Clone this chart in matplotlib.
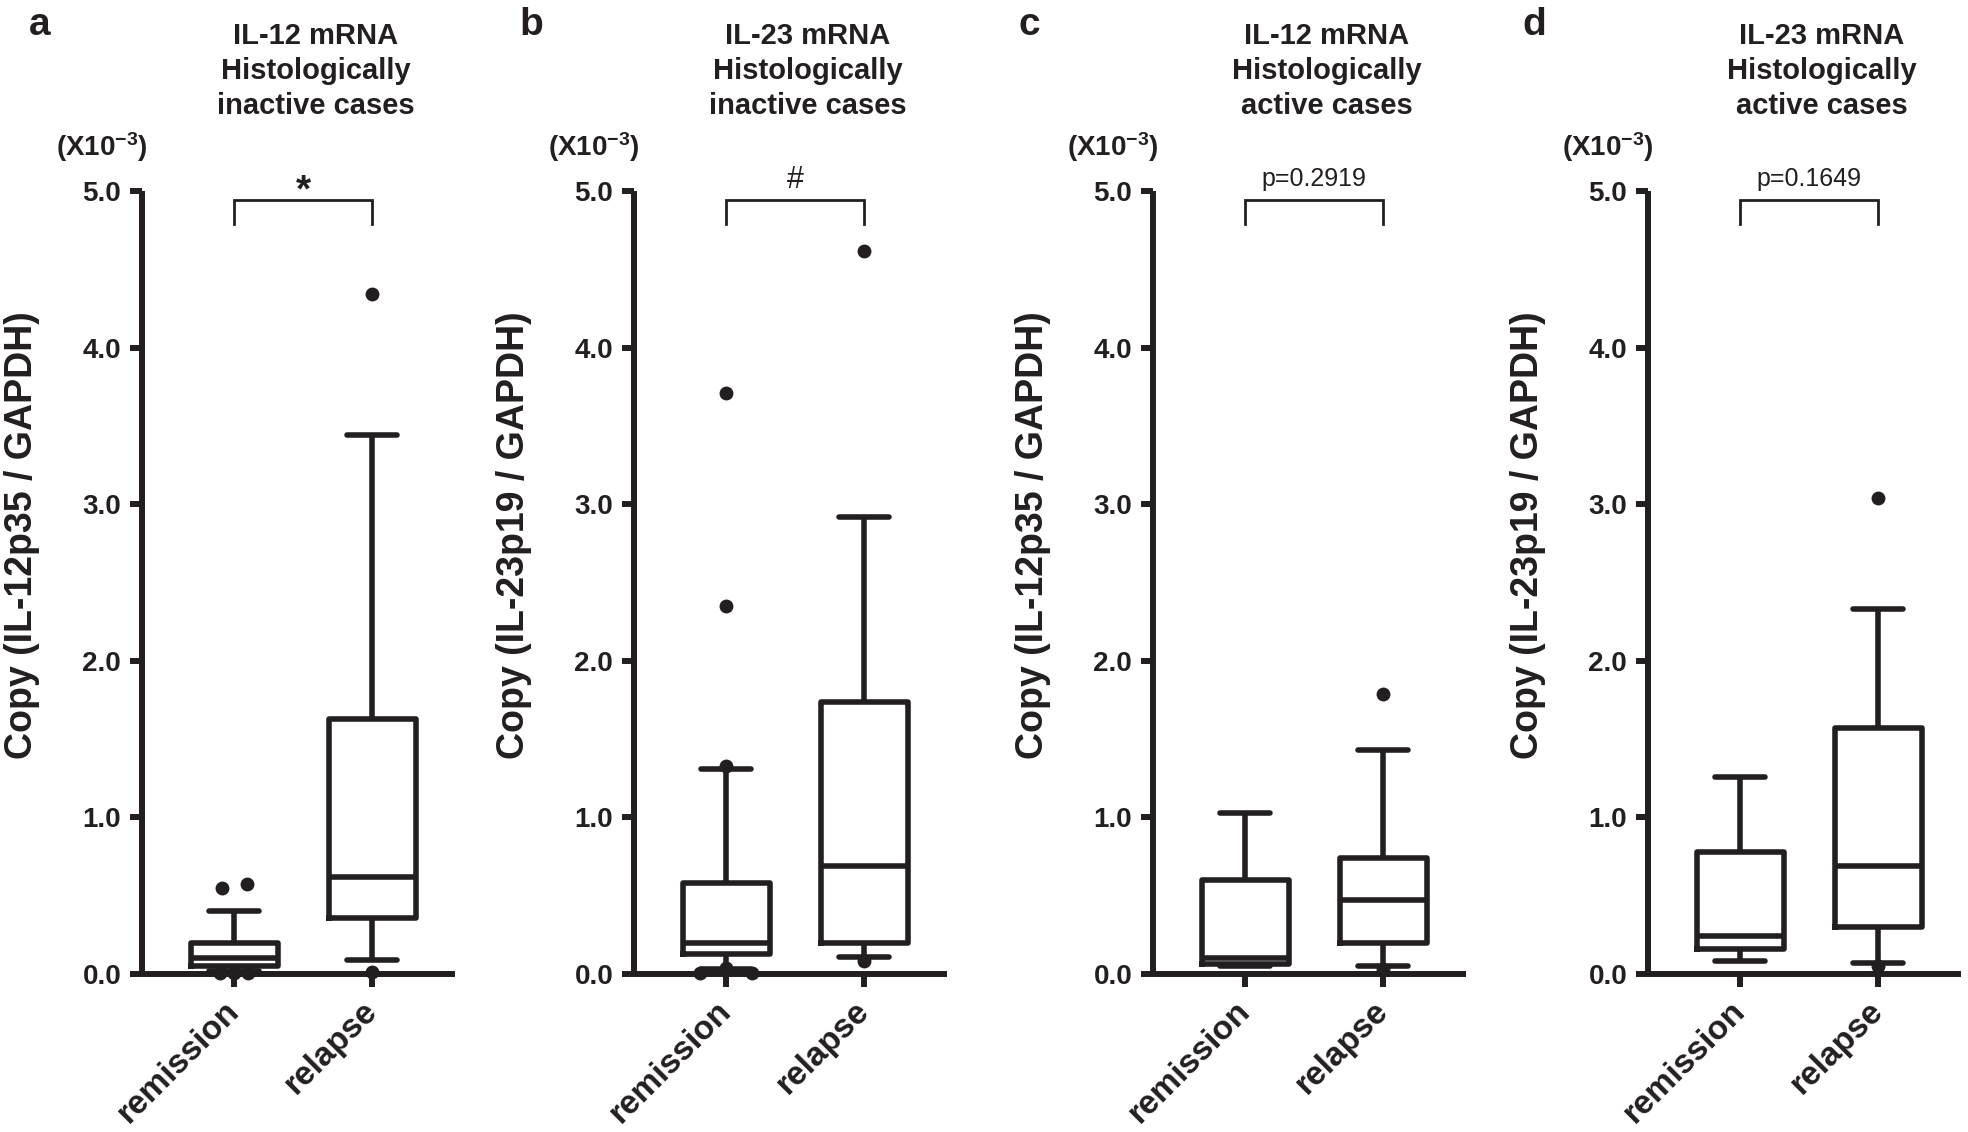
import matplotlib.pyplot as plt
import numpy as np

plt.rcParams['font.family'] = ['Liberation Sans', 'DejaVu Sans']
plt.rcParams['font.weight'] = 'bold'
plt.rcParams['axes.labelweight'] = 'bold'
plt.rcParams['mathtext.fontset'] = 'custom'
plt.rcParams['mathtext.rm'] = 'Liberation Sans:bold'
plt.rcParams['mathtext.default'] = 'rm'

INK = '#231f20'

# ---- data (x10^-3 copies) ----
groups = ['remission', 'relapse']
panel_letters = ['a', 'b', 'c', 'd']
titles = ['IL-12 mRNA\nHistologically\ninactive cases',
          'IL-23 mRNA\nHistologically\ninactive cases',
          'IL-12 mRNA\nHistologically\nactive cases',
          'IL-23 mRNA\nHistologically\nactive cases']
ylabels = ['Copy (IL-12p35 / GAPDH)', 'Copy (IL-23p19 / GAPDH)',
           'Copy (IL-12p35 / GAPDH)', 'Copy (IL-23p19 / GAPDH)']
sig_labels = ['*', '#', 'p=0.2919', 'p=0.1649']

# per panel: [remission, relapse]
whislo = [[0.02, 0.09], [0.03, 0.11], [0.05, 0.05], [0.085, 0.07]]
q1 = [[0.05, 0.36], [0.13, 0.20], [0.065, 0.20], [0.16, 0.30]]
med = [[0.10, 0.62], [0.20, 0.69], [0.10, 0.47], [0.24, 0.69]]
q3 = [[0.20, 1.63], [0.58, 1.74], [0.60, 0.74], [0.78, 1.57]]
whishi = [[0.40, 3.44], [1.31, 2.92], [1.03, 1.43], [1.26, 2.33]]
fliers = [[[0.55, 0.575, 0.005, 0.005, 0.005], [4.34, 0.01]],
          [[3.71, 2.35, 1.33, 0.005, 0.04, 0.005], [4.62, 0.08]],
          [[], [1.79, 0.03]],
          [[], [3.04, 0.05]]]
# horizontal spread of overlapping points (layout only)
flier_dx = [[[-0.09, 0.09, -0.1, 0.0, 0.1], [0.0, 0.0]],
            [[0.0, 0.0, 0.0, -0.19, 0.0, 0.19], [0.0, 0.0]],
            [[], [0.0, 0.0]],
            [[], [0.0, 0.0]]]

fig = plt.figure(figsize=(19.68, 11.32), dpi=100, facecolor='white')

lefts = [142, 634, 1153, 1648]
letter_x = [40, 531, 1029, 1534]
W, H = 1968, 1132
positions = [1, 2]

for i in range(4):
    ax = fig.add_axes([lefts[i] / W, 158 / H, 313 / W, 783 / H])
    stats = []
    for g in range(2):
        stats.append(dict(whislo=whislo[i][g], q1=q1[i][g], med=med[i][g],
                          q3=q3[i][g], whishi=whishi[i][g], fliers=[],
                          label=groups[g]))
    lw = 4.0
    ax.bxp(stats, positions=positions, widths=0.63, capwidths=0.36,
           showfliers=False, patch_artist=False,
           boxprops=dict(color=INK, linewidth=lw),
           whiskerprops=dict(color=INK, linewidth=lw, solid_capstyle='butt'),
           capprops=dict(color=INK, linewidth=lw, solid_capstyle='round'),
           medianprops=dict(color=INK, linewidth=lw))
    for g in range(2):
        ys = fliers[i][g]
        if ys:
            xs = positions[g] + np.array(flier_dx[i][g])
            ax.scatter(xs, ys, s=100, color=INK, zorder=5, clip_on=False,
                       linewidths=0)

    ax.set_xlim(0.333, 2.6)
    ax.set_ylim(0, 5)
    ax.set_yticks([0, 1, 2, 3, 4, 5])
    ax.set_yticklabels(['0.0', '1.0', '2.0', '3.0', '4.0', '5.0'])
    ax.set_xticks(positions)
    ax.set_xticklabels(groups, rotation=45, ha='right', va='center',
                       rotation_mode='anchor', fontsize=24)
    for side in ['top', 'right']:
        ax.spines[side].set_visible(False)
    for side in ['left', 'bottom']:
        ax.spines[side].set_linewidth(4.3)
        ax.spines[side].set_color(INK)
        ax.spines[side].set_capstyle('butt')
    ax.tick_params(axis='y', length=9, width=4.3, color=INK, labelsize=20,
                   pad=6, labelcolor=INK)
    ax.tick_params(axis='x', length=9, width=4.3, color=INK, pad=14,
                   labelcolor=INK)

    ax.set_ylabel(ylabels[i], fontsize=27, color=INK, fontweight='bold')
    ax.yaxis.set_label_coords(-0.325, 0.56)

    ax.text(0.555, 1.153, titles[i], transform=ax.transAxes, ha='center',
            va='center', fontsize=21, color=INK, linespacing=1.32)
    ax.text(-0.128, 1.056, r'(X10$^{-3}$)', transform=ax.transAxes,
            ha='center', va='center', fontsize=20, color=INK)
    fig.text(letter_x[i] / W, 1 - 25 / H, panel_letters[i], fontsize=28,
             ha='center', va='center', color=INK)

    # significance bracket
    ax.plot([1, 1, 2, 2], [4.79, 4.94, 4.94, 4.79], color=INK, lw=2.0,
            clip_on=False, solid_joinstyle='miter')
    if sig_labels[i].startswith('p'):
        ax.text(1.5, 5.0, sig_labels[i], ha='center', va='bottom',
                fontsize=18, fontweight='normal', color=INK)
    elif sig_labels[i] == '*':
        ax.text(1.5, 5.0, sig_labels[i], ha='center', va='center',
                fontsize=28, fontweight='bold', color=INK)
    else:
        ax.text(1.5, 5.07, sig_labels[i], ha='center', va='center',
                fontsize=22, fontweight='normal', color=INK)

fig.savefig('out.png', dpi=100, facecolor='white')
